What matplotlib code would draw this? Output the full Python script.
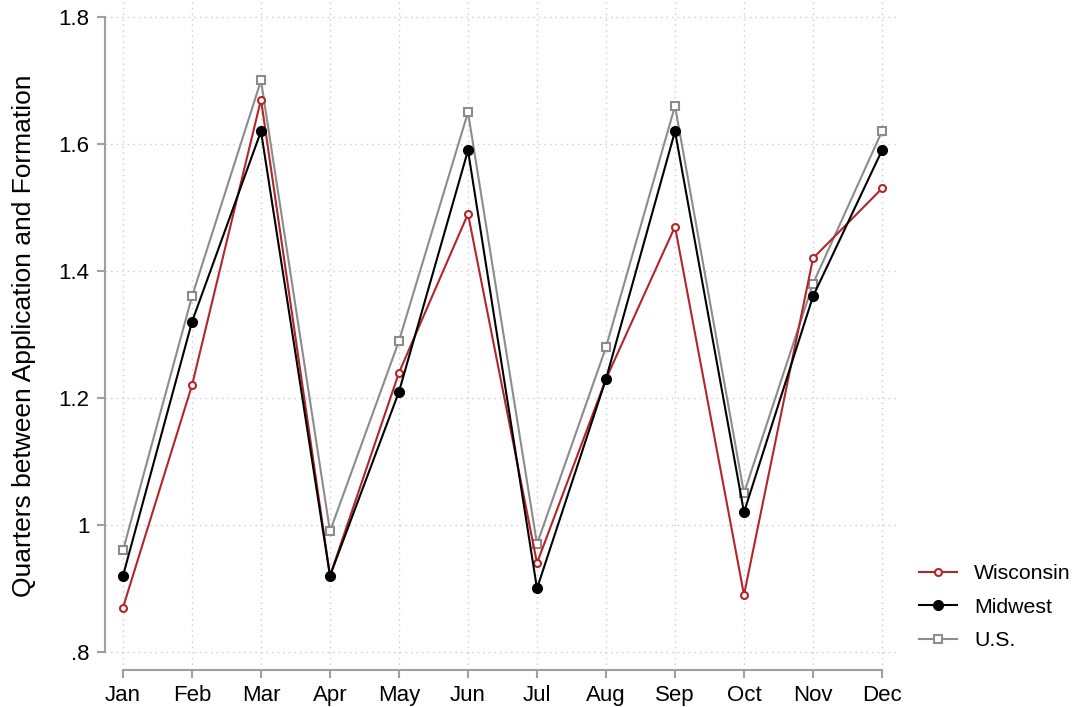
import numpy as np
import matplotlib.pyplot as plt

plt.rcParams['font.family'] = ['Liberation Sans', 'DejaVu Sans']

months = ['Jan', 'Feb', 'Mar', 'Apr', 'May', 'Jun', 'Jul', 'Aug', 'Sep', 'Oct', 'Nov', 'Dec']
wisconsin = [0.87, 1.22, 1.67, 0.92, 1.24, 1.49, 0.94, 1.23, 1.47, 0.89, 1.42, 1.53]
midwest = [0.92, 1.32, 1.62, 0.92, 1.21, 1.59, 0.90, 1.23, 1.62, 1.02, 1.36, 1.59]
us = [0.96, 1.36, 1.70, 0.99, 1.29, 1.65, 0.97, 1.28, 1.66, 1.05, 1.38, 1.62]
yticks = [0.8, 1.0, 1.2, 1.4, 1.6, 1.8]
ytick_labels = ['.8', '1', '1.2', '1.4', '1.6', '1.8']

W, H = 1078, 707
fig = plt.figure(figsize=(W / 100, H / 100), dpi=100)
ax = fig.add_axes([105 / W, 37 / H, 795 / W, 668 / H])

x = np.arange(1, 13)
red = '#B2262A'
gray = '#8C8C8C'

ax.plot(x, wisconsin, color=red, lw=1.5, marker='o', ms=5, mfc='white', mec=red, mew=1.5, label='Wisconsin', zorder=3)
ax.plot(x, midwest, color='black', lw=1.5, marker='o', ms=7, label='Midwest', zorder=4)
ax.plot(x, us, color=gray, lw=1.5, marker='s', ms=5.5, mfc='white', mec=gray, mew=1.5, label='U.S.', zorder=2)

ax.set_xlim(1 - 18 / 69, 12 + 18 / 69)
ax.set_ylim(0.8 - 18 / 635, 1.8 + 15 / 635)
ax.set_xticks(x)
ax.set_xticklabels(months)
ax.set_yticks(yticks)
ax.set_yticklabels(ytick_labels)

ax.grid(True, color='#cccccc', linestyle=(0, (1, 3)), linewidth=1)
ax.set_axisbelow(True)

for s in ['top', 'right']:
    ax.spines[s].set_visible(False)
ax.spines['left'].set_bounds(0.8, 1.8)
ax.spines['bottom'].set_bounds(1, 12)
for s in ['left', 'bottom']:
    ax.spines[s].set_color('#a0a0a0')
    ax.spines[s].set_linewidth(1.5)
ax.tick_params(colors='#a0a0a0', width=1.5, length=6, labelcolor='black', labelsize=16, pad=5)

ax.set_ylabel('Quarters between Application and Formation', fontsize=19, labelpad=16)

ax.legend(loc='center left', bbox_to_anchor=(1.0, 0.094), frameon=False, fontsize=15.3,
          handlelength=1.8, handletextpad=0.8, labelspacing=0.68)

fig.savefig('out.png', dpi=100)
